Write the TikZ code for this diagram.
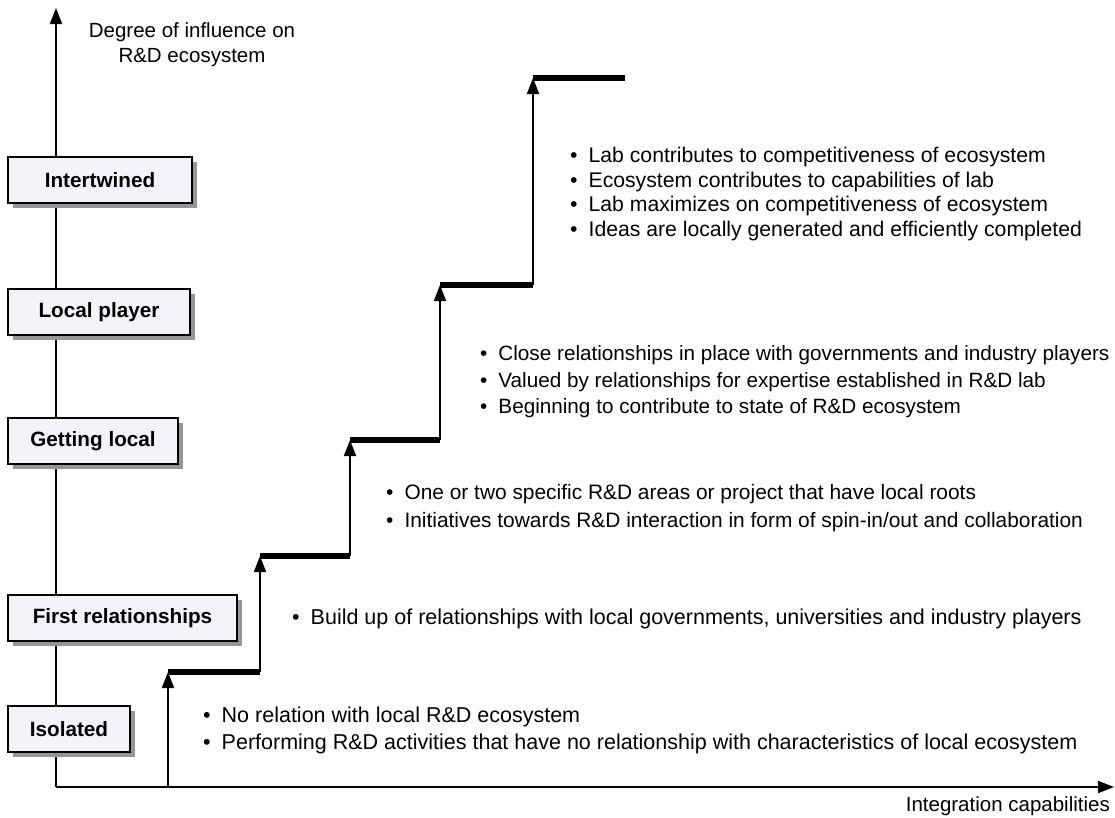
\documentclass[tikz,border=0pt]{standalone}
\usepackage{fontspec}
\setmainfont{Liberation Sans}
\usetikzlibrary{arrows.meta,shadows}
\definecolor{boxfill}{RGB}{243,243,249}
\definecolor{shadowgray}{RGB}{150,150,150}
\begin{document}
\begin{tikzpicture}[x=1pt,y=-1pt,
  every node/.style={font=\fontsize{20.5}{25}\selectfont, inner sep=0pt},
  levelbox/.style={draw=black, line width=1.5pt, fill=boxfill, minimum height=46pt,
    font=\fontsize{20.7}{25}\selectfont\bfseries,
    drop shadow={shadow xshift=5pt, shadow yshift=-5pt, fill=shadowgray, opacity=1}},
  axisline/.style={line width=1.8pt, -{Triangle[width=12pt,length=16pt]}},
  riser/.style={line width=1.8pt, -{Triangle[width=12pt,length=16pt]}},
  tread/.style={line width=6pt},
  bullets/.style={align=left, anchor=west}
]
\useasboundingbox (0,0) rectangle (1115,817);

% axes
\coordinate (O) at (56,787);
\coordinate (ytop) at (56,8);
\coordinate (xend) at (1114,787);
\draw[axisline] (O) -- (ytop);
\draw[axisline] (O) -- (xend);

\node[align=center] (ylab) at (192,45) {Degree of influence on\\R\&D ecosystem};
\node[anchor=east] (xlab) at (1110,806) {Integration capabilities};

% level boxes
\node[levelbox, minimum width=184pt] (b5) at (100,180) {Intertwined};
\node[levelbox, minimum width=182pt] (b4) at (99,312) {Local player};
\node[levelbox, minimum width=170pt] (b3) at (93,441) {Getting local};
\node[levelbox, minimum width=229pt] (b2) at (122.5,618) {First relationships};
\node[levelbox, minimum width=122pt] (b1) at (69,729) {Isolated};

% staircase
\coordinate (s0) at (168,787);
\coordinate (c1) at (168,672); \coordinate (e1) at (260,672);
\coordinate (c2) at (260,556); \coordinate (e2) at (350,556);
\coordinate (c3) at (350,440); \coordinate (e3) at (440,440);
\coordinate (c4) at (440,285); \coordinate (e4) at (533,285);
\coordinate (c5) at (533,78);  \coordinate (e5) at (625,78);

\draw[riser] (s0) -- (c1);
\draw[riser] (e1) -- (c2);
\draw[riser] (e2) -- (c3);
\draw[riser] (e3) -- (c4);
\draw[riser] (e4) -- (c5);

\draw[tread] (c1) -- (e1);
\draw[tread] (c2) -- (e2);
\draw[tread] (c3) -- (e3);
\draw[tread] (c4) -- (e4);
\draw[tread] (c5) -- (e5);

% descriptions
\node[bullets, font=\fontsize{21.2}{24.5}\selectfont] (t5) at (570,194) {\textbullet\hspace{11pt}Lab contributes to competitiveness of ecosystem\\
\textbullet\hspace{11pt}Ecosystem contributes to capabilities of lab\\
\textbullet\hspace{11pt}Lab maximizes on competitiveness of ecosystem\\
\textbullet\hspace{11pt}Ideas are locally generated and efficiently completed};

\node[bullets, font=\fontsize{20.7}{26.5}\selectfont] (t4) at (480,382) {\textbullet\hspace{11pt}Close relationships in place with governments and industry players\\
\textbullet\hspace{11pt}Valued by relationships for expertise established in R\&D lab\\
\textbullet\hspace{11pt}Beginning to contribute to state of R\&D ecosystem};

\node[bullets, font=\fontsize{20.9}{28.5}\selectfont] (t3) at (386,508) {\textbullet\hspace{11pt}One or two specific R\&D areas or project that have local roots\\
\textbullet\hspace{11pt}Initiatives towards R\&D interaction in form of spin-in/out and collaboration};

\node[bullets, font=\fontsize{21.5}{25}\selectfont] (t2) at (292,619) {\textbullet\hspace{11pt}Build up of relationships with local governments, universities and industry players};

\node[bullets, font=\fontsize{21.5}{27}\selectfont] (t1) at (203,730.5) {\textbullet\hspace{11pt}No relation with local R\&D ecosystem\\
\textbullet\hspace{11pt}Performing R\&D activities that have no relationship with characteristics of local ecosystem};
\end{tikzpicture}
\end{document}
